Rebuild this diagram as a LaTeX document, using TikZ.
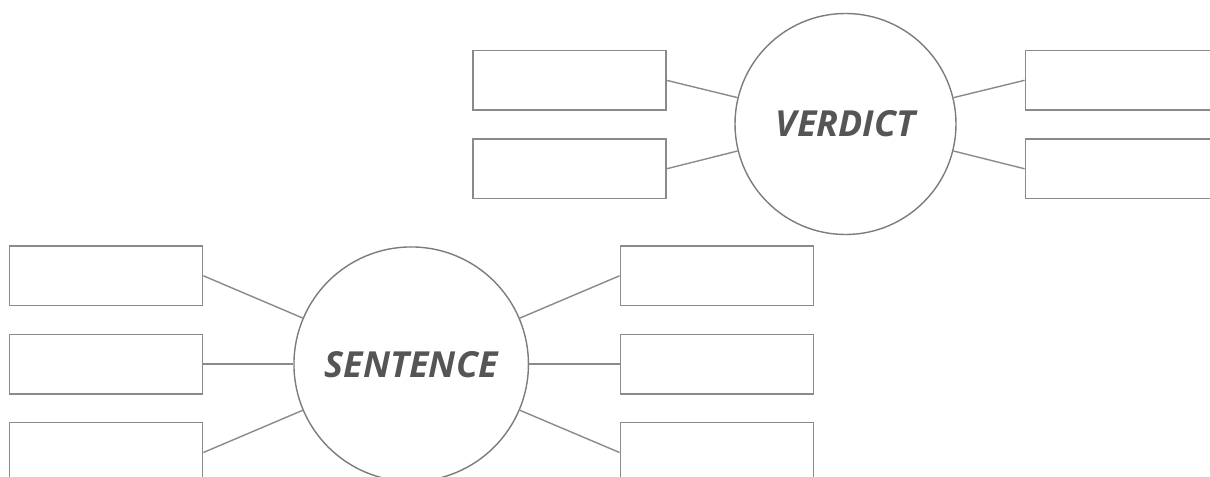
\documentclass[tikz,border=0pt]{standalone}
\usepackage{fontspec}
\setmainfont{Open Sans}
\definecolor{linegray}{HTML}{8A8A8A}
\definecolor{textgray}{HTML}{555555}
\begin{document}
\begin{tikzpicture}[x=1bp,y=-1bp,
  boxnode/.style={draw=linegray,line width=1.4bp,rectangle,inner sep=0pt,minimum width=193bp,minimum height=59.5bp,fill=white},
  hub/.style={draw=linegray!90!black,line width=1.4bp,circle,inner sep=0pt,fill=white,text=textgray,font=\fontsize{36}{42}\selectfont\bfseries\itshape},
  link/.style={draw=linegray,line width=1.4bp}]
\useasboundingbox (0,0) rectangle (1210,477);
\clip (0,0) rectangle (1210,477);
\fill[white] (0,0) rectangle (1210,477);
% top group
\node[hub,minimum size=221bp] (verdict) at (845.5,124) {VERDICT};
\node[boxnode] (tl1) at (569.3,80.3) {};
\node[boxnode] (tl2) at (569.3,168.8) {};
\node[boxnode] (tr1) at (1121.8,80.3) {};
\node[boxnode] (tr2) at (1121.8,168.8) {};
\draw[link] (tl1.east) -- (verdict);
\draw[link] (tl2.east) -- (verdict);
\draw[link] (tr1.west) -- (verdict);
\draw[link] (tr2.west) -- (verdict);
% bottom group
\node[hub,minimum size=234.5bp] (sentence) at (411.2,364.2) {SENTENCE};
\node[boxnode] (bl1) at (106.2,275.8) {};
\node[boxnode] (bl2) at (106.2,364.2) {};
\node[boxnode] (bl3) at (106.2,452.5) {};
\node[boxnode] (br1) at (716.7,275.8) {};
\node[boxnode] (br2) at (716.7,364.2) {};
\node[boxnode] (br3) at (716.7,452.5) {};
\draw[link] (bl1.east) -- (sentence);
\draw[link] (bl2.east) -- (sentence);
\draw[link] (bl3.east) -- (sentence);
\draw[link] (br1.west) -- (sentence);
\draw[link] (br2.west) -- (sentence);
\draw[link] (br3.west) -- (sentence);
\end{tikzpicture}
\end{document}
